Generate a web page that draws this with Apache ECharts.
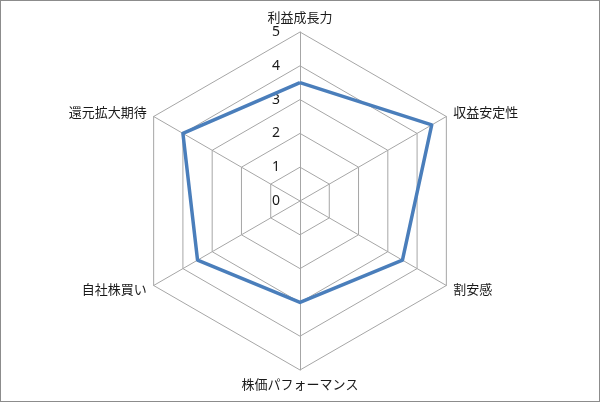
<!DOCTYPE html>
<html>
<head>
<meta charset="utf-8">
<script src="https://cdn.jsdelivr.net/npm/echarts@6/dist/echarts.min.js"></script>
<style>
  html, body { margin: 0; padding: 0; background: #fff; }
  #chart { width: 598px; height: 400px; border: 1px solid #8c8c8c; }
</style>
</head>
<body>
<div id="chart"></div>
<script>
// 指標名（時計回り）
const indicatorNames = ['利益成長力', '収益安定性', '割安感', '株価パフォーマンス', '自社株買い', '還元拡大期待']
// 評価値
const scoreValues = [3.5, 4.5, 3.5, 3, 3.5, 4]
const maxScore = 5

// ECharts のレーダーは反時計回りなので先頭以外を逆順にする
const toCcw = (arr) => [arr[0], ...arr.slice(1).reverse()]

const chart = echarts.init(document.getElementById('chart'))

const option = {
  animation: false,
  textStyle: { fontFamily: '"Noto Sans CJK JP", sans-serif' },
  radar: {
    center: [299, 200],
    radius: 169,
    startAngle: 90,
    shape: 'polygon',
    splitNumber: 5,
    axisNameGap: 8,
    axisName: {
      color: '#1a1a1a',
      fontSize: 13,
      fontFamily: '"Noto Sans CJK JP", sans-serif'
    },
    // 目盛りは先頭の軸だけに表示
    indicator: toCcw(indicatorNames).map((name, i) => ({
      name,
      min: 0,
      max: maxScore,
      axisLabel: { show: i === 0 }
    })),
    axisLabel: {
      show: true,
      margin: 20,
      color: '#1a1a1a',
      fontSize: 14,
      fontFamily: '"Noto Sans", sans-serif'
    },
    axisTick: { show: false },
    axisLine: { lineStyle: { color: '#a6a6a6', width: 1 } },
    splitLine: { lineStyle: { color: '#a6a6a6', width: 1 } },
    splitArea: { show: false }
  },
  series: [{
    type: 'radar',
    symbol: 'none',
    lineStyle: { color: '#4a7ebb', width: 3.5 },
    data: [{ value: toCcw(scoreValues), name: '評価' }]
  }]
}

chart.setOption(option)
</script>
</body>
</html>
